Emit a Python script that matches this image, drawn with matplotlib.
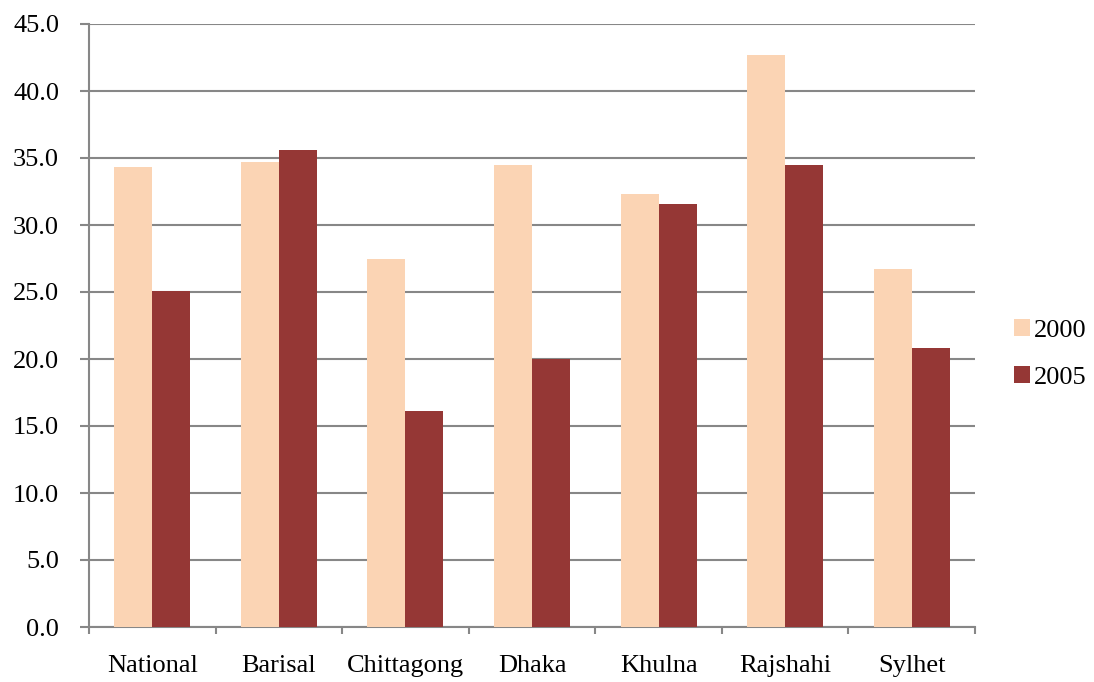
import numpy as np
import matplotlib.pyplot as plt

plt.rcParams['font.family'] = ['Liberation Serif', 'DejaVu Serif']

regions = ['National', 'Barisal', 'Chittagong', 'Dhaka', 'Khulna', 'Rajshahi', 'Sylhet']
v2000 = [34.3, 34.7, 27.5, 34.5, 32.3, 42.7, 26.7]
v2005 = [25.1, 35.6, 16.1, 20.0, 31.6, 34.5, 20.8]

fig = plt.figure(figsize=(10.94, 6.82), dpi=100)
ax = fig.add_axes([89/1094, 55/682, 886/1094, 603/682])

x = np.arange(len(regions))
w = 0.3
ax.bar(x - w/2, v2000, w, color='#FBD4B4', label='2000', zorder=3)
ax.bar(x + w/2, v2005, w, color='#953735', label='2005', zorder=3)

ax.set_xlim(-0.5, len(regions) - 0.5)
ax.set_ylim(0, 45)
ax.set_yticks(np.arange(0, 46, 5))
ax.set_yticklabels([f'{t:.1f}' for t in np.arange(0, 46, 5)], fontsize=19)
ax.set_xticks(x)
ax.set_xticklabels(regions, fontsize=19)
ax.tick_params(axis='x', length=0, pad=20)
ax.set_xticks(np.arange(-0.5, len(regions)), minor=True)
ax.tick_params(axis='x', which='minor', length=5, width=1.5, color='#878787')
ax.tick_params(axis='y', length=6.5, width=1.5, color='#878787', pad=15)

ax.grid(axis='y', color='#878787', linewidth=1.5, zorder=0)
for s in ['top', 'right']:
    ax.spines[s].set_visible(False)
for s in ['left', 'bottom']:
    ax.spines[s].set_color('#878787')
    ax.spines[s].set_linewidth(1.5)

fig.legend(loc='center left', bbox_to_anchor=(1014/1094, 1 - 354/682), frameon=False, fontsize=19,
           borderpad=0, borderaxespad=0, handlelength=0.6, handleheight=0.6,
           handletextpad=0.15, labelspacing=0.9)

fig.savefig('out.png', dpi=100)
